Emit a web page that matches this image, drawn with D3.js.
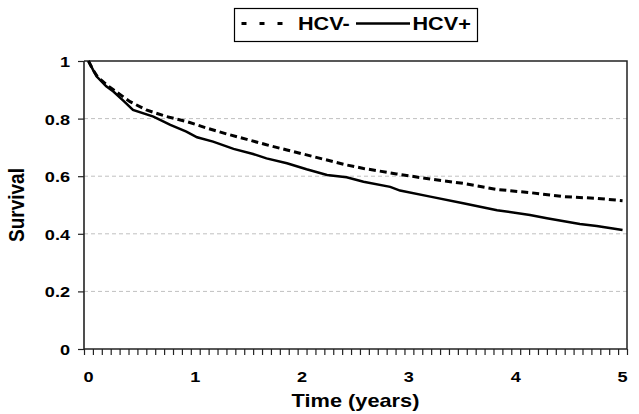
<!DOCTYPE html>
<html><head><meta charset="utf-8">
<script src="https://cdn.jsdelivr.net/npm/d3@7"></script>
<style>body{margin:0;background:#fff}svg{display:block}text{font-family:"Liberation Sans",Arial,sans-serif;font-weight:bold;fill:#000}</style>
</head><body><svg id="c" width="639" height="414"></svg>
<script>
// time in months
const negMonths = [0, 0.5, 1, 2.05, 3.5, 4.67, 6.5, 8.8, 11.0, 13.3, 15.5, 17.8, 20.0, 22.3, 24.5, 26.8, 29.0, 30.9, 34.6, 38.4, 42.1, 45.9, 49.6, 53.4, 57.1, 60.0];
const negSurv   = [1.0, 0.97, 0.946, 0.917, 0.885, 0.859, 0.830, 0.807, 0.790, 0.767, 0.747, 0.728, 0.709, 0.691, 0.674, 0.656, 0.639, 0.627, 0.608, 0.590, 0.575, 0.554, 0.543, 0.529, 0.523, 0.515];
const posMonths = [0, 0.5, 0.93, 2.0, 2.8, 4.0, 5.0, 7.3, 9.2, 11.0, 12.2, 14.0, 16.3, 18.5, 20.0, 22.3, 24.5, 26.8, 29.0, 30.9, 33.9, 35.0, 38.4, 42.1, 45.9, 49.6, 51.5, 55.2, 57.1, 60.0];
const posSurv   = [1.0, 0.97, 0.946, 0.912, 0.894, 0.86, 0.830, 0.807, 0.778, 0.755, 0.735, 0.720, 0.695, 0.677, 0.662, 0.645, 0.624, 0.604, 0.596, 0.581, 0.563, 0.550, 0.529, 0.506, 0.482, 0.465, 0.454, 0.434, 0.427, 0.413];
const yearTicks = [0, 1, 2, 3, 4, 5];
const yTicks = [0, 0.2, 0.4, 0.6, 0.8, 1];
const seriesNames = ["HCV-", "HCV+"];

const SX = 1.17; // horizontal stretch of the reference text
const svg = d3.select("#c");
const L = 84, R = 627, T = 61, B = 349;
const x = d3.scaleLinear().domain([-0.5, 60.5]).range([L, R]);
const y = d3.scaleLinear().domain([0, 1]).range([B, T]);

function label(g, px, py, str, size, anchor) {
  return g.append("text").attr("transform", `translate(${px},${py}) scale(${SX},1)`)
    .attr("text-anchor", anchor || "start").style("font-size", size + "px").text(str);
}

// gridlines
svg.append("g").selectAll("line").data(yTicks.filter(v => v > 0 && v < 1)).join("line")
  .attr("x1", L).attr("x2", R).attr("y1", d => y(d)).attr("y2", d => y(d))
  .attr("stroke", "#c0c0c0").attr("stroke-width", 1).attr("stroke-dasharray", "4,3");

// top & right border
svg.append("path").attr("d", `M${L},${y(1)}H${R}V${B}`).attr("fill", "none").attr("stroke", "#222").attr("stroke-width", 1.5);

// y axis
const gy = svg.append("g").attr("transform", `translate(${L},0)`).call(d3.axisLeft(y).tickValues(yTicks).tickFormat("").tickSize(6));
gy.select(".domain").attr("stroke", "#222").attr("stroke-width", 1.6).attr("d", `M0,${B}V${T}`);
gy.selectAll(".tick line").attr("stroke", "#222").attr("stroke-width", 1.2);
const gyl = svg.append("g");
yTicks.forEach(v => label(gyl, 70, y(v) + 6, d3.format("")(v), 15.5, "end"));

// x axis: month boundary ticks
const monthTicks = d3.range(0, 62).map(k => k - 0.5);
const gx = svg.append("g").attr("transform", `translate(0,${B})`).call(d3.axisBottom(x).tickValues(monthTicks).tickFormat("").tickSize(6));
gx.select(".domain").attr("stroke", "#222").attr("stroke-width", 1.6).attr("d", `M${L},0H${R}`);
gx.selectAll(".tick line").attr("stroke", "#222").attr("stroke-width", 1.2);
const gxl = svg.append("g");
yearTicks.forEach(v => label(gxl, x(v * 12), 382, v, 15.5, "middle"));

// lines
const line = d3.line().x(d => x(d[0])).y(d => y(d[1]));
svg.append("path").datum(d3.zip(negMonths, negSurv)).attr("d", line)
  .attr("fill", "none").attr("stroke", "#000").attr("stroke-width", 3).attr("stroke-dasharray", "7,4");
svg.append("path").datum(d3.zip(posMonths, posSurv)).attr("d", line)
  .attr("fill", "none").attr("stroke", "#000").attr("stroke-width", 2.5);

// axis titles
label(svg, (L + R) / 2, 407, "Time (years)", 18.6, "middle");
svg.append("text").attr("transform", `translate(24,${(T + B) / 2}) rotate(-90) scale(1,${SX})`)
  .attr("text-anchor", "middle").style("font-size", "19px").text("Survival");

// legend
const lg = svg.append("g");
lg.append("rect").attr("x", 234.5).attr("y", 8.5).attr("width", 243).attr("height", 33).attr("fill", "#fff").attr("stroke", "#000").attr("stroke-width", 1.2);
lg.append("line").attr("x1", 241.5).attr("x2", 284).attr("y1", 23.5).attr("y2", 23.5).attr("stroke", "#000").attr("stroke-width", 3).attr("stroke-dasharray", "5,13");
label(lg, 298, 30, seriesNames[0], 18.5, "start");
lg.append("line").attr("x1", 356).attr("x2", 410).attr("y1", 23.5).attr("y2", 23.5).attr("stroke", "#000").attr("stroke-width", 2.5);
label(lg, 412.5, 30, seriesNames[1], 18.5, "start");
</script></body></html>
